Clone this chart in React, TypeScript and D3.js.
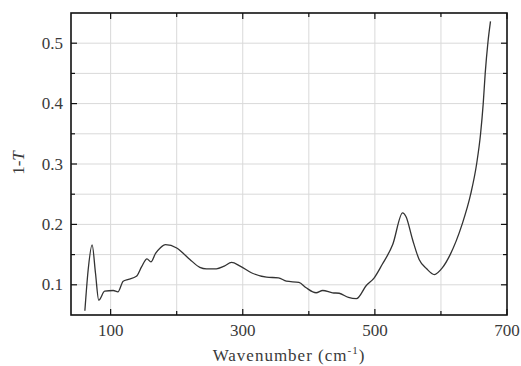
import React from "react";
import * as d3 from "d3";

// Absorption spectrum 1-T vs wavenumber
const wavenumber = [
  61, 66, 72, 77, 82, 91, 104, 111, 119, 127, 139, 147, 155, 161, 168, 175, 183,
  200, 209, 220, 235, 245, 260, 272, 283, 296, 313, 336, 354, 366, 385, 396, 411, 421,
  436, 446, 460, 472, 487, 499, 511, 527, 542, 547, 557, 567, 578, 590, 602, 614, 632,
  645, 654, 660, 664, 667, 671, 675,
];
const absorbance = [
  0.057, 0.125, 0.166, 0.12, 0.0746, 0.0894, 0.0906, 0.0884, 0.106, 0.109, 0.114, 0.13,
  0.143, 0.138, 0.152, 0.161, 0.1665, 0.161, 0.153, 0.142, 0.129, 0.1265, 0.1265, 0.131,
  0.137, 0.131, 0.12, 0.1126, 0.1116, 0.106, 0.104, 0.095, 0.0868, 0.0906, 0.0868, 0.086,
  0.079, 0.077, 0.0988, 0.1116, 0.1336, 0.1666, 0.219, 0.213, 0.175, 0.142, 0.127, 0.117,
  0.128, 0.15, 0.2, 0.25, 0.3, 0.35, 0.4, 0.45, 0.5, 0.536,
];

const xMajorTicks = [100, 300, 500, 700];
const xMinorTicks = [200, 400, 600];
const yMajorTicks = [0.1, 0.2, 0.3, 0.4, 0.5];
const yMinorTicks = [0.15, 0.25, 0.35, 0.45];

const W = 521;
const H = 366;
const M = { left: 71, right: 14, top: 13, bottom: 51 };
const FONT = "'Liberation Serif', 'Times New Roman', serif";

export default function App() {
  const x = d3.scaleLinear().domain([40, 700]).range([M.left, W - M.right]);
  const y = d3.scaleLinear().domain([0.05, 0.55]).range([H - M.bottom, M.top]);
  const points: [number, number][] = wavenumber.map((v, i) => [v, absorbance[i]]);
  const line = d3
    .line<[number, number]>()
    .x((d) => x(d[0]))
    .y((d) => y(d[1]))
    .curve(d3.curveMonotoneX);

  const x0 = M.left;
  const x1 = W - M.right;
  const y0 = H - M.bottom;
  const y1 = M.top;
  const gridColor = "#d9d9d9";
  const textColor = "#3a3a3a";
  const major = 6;
  const minor = 4;

  return (
    <svg
      width={W}
      height={H}
      style={{ position: "absolute", left: 0, top: 0, background: "#fff" }}
    >
      {/* grid */}
      {[...xMajorTicks, ...xMinorTicks]
        .filter((t) => t < 700)
        .map((t) => (
          <line key={"gx" + t} x1={x(t)} x2={x(t)} y1={y0} y2={y1} stroke={gridColor} strokeWidth={1} />
        ))}
      {[...yMajorTicks, ...yMinorTicks].map((t) => (
        <line key={"gy" + t} x1={x0} x2={x1} y1={y(t)} y2={y(t)} stroke={gridColor} strokeWidth={1} />
      ))}

      {/* spectrum */}
      <path d={line(points) ?? ""} fill="none" stroke="#333" strokeWidth={1.3} />

      {/* frame */}
      <rect x={x0} y={y1} width={x1 - x0} height={y0 - y1} fill="none" stroke="#111" strokeWidth={1.6} />

      {/* ticks */}
      {xMajorTicks.map((t) => (
        <g key={"xt" + t}>
          <line x1={x(t)} x2={x(t)} y1={y0} y2={y0 - major} stroke="#111" strokeWidth={1.2} />
          <line x1={x(t)} x2={x(t)} y1={y1} y2={y1 + major} stroke="#111" strokeWidth={1.2} />
          <text x={x(t)} y={y0 + 21} textAnchor="middle" fontFamily={FONT} fontSize={17} fill={textColor}>
            {t}
          </text>
        </g>
      ))}
      {xMinorTicks.map((t) => (
        <g key={"xm" + t}>
          <line x1={x(t)} x2={x(t)} y1={y0} y2={y0 - minor} stroke="#111" strokeWidth={1.2} />
          <line x1={x(t)} x2={x(t)} y1={y1} y2={y1 + minor} stroke="#111" strokeWidth={1.2} />
        </g>
      ))}
      {yMajorTicks.map((t) => (
        <g key={"yt" + t}>
          <line x1={x0} x2={x0 + major} y1={y(t)} y2={y(t)} stroke="#111" strokeWidth={1.2} />
          <line x1={x1} x2={x1 - major} y1={y(t)} y2={y(t)} stroke="#111" strokeWidth={1.2} />
          <text x={x0 - 8} y={y(t) + 5.5} textAnchor="end" fontFamily={FONT} fontSize={17} fill={textColor}>
            {t.toFixed(1)}
          </text>
        </g>
      ))}
      {yMinorTicks.map((t) => (
        <g key={"ym" + t}>
          <line x1={x0} x2={x0 + minor} y1={y(t)} y2={y(t)} stroke="#111" strokeWidth={1.2} />
          <line x1={x1} x2={x1 - minor} y1={y(t)} y2={y(t)} stroke="#111" strokeWidth={1.2} />
        </g>
      ))}

      {/* axis titles */}
      <text
        x={(x0 + x1) / 2}
        y={361}
        textAnchor="middle"
        fontFamily={FONT}
        fontSize={17}
        letterSpacing={1}
        fill={textColor}
      >
        Wavenumber (cm
        <tspan fontSize={11} dy={-7}>-1</tspan>
        <tspan dy={7}>)</tspan>
      </text>
      <text
        transform={`translate(24, ${(y0 + y1) / 2 - 1}) rotate(-90)`}
        textAnchor="middle"
        fontFamily={FONT}
        fontSize={17}
        fill={textColor}
      >
        1-<tspan fontStyle="italic">T</tspan>
      </text>
    </svg>
  );
}
